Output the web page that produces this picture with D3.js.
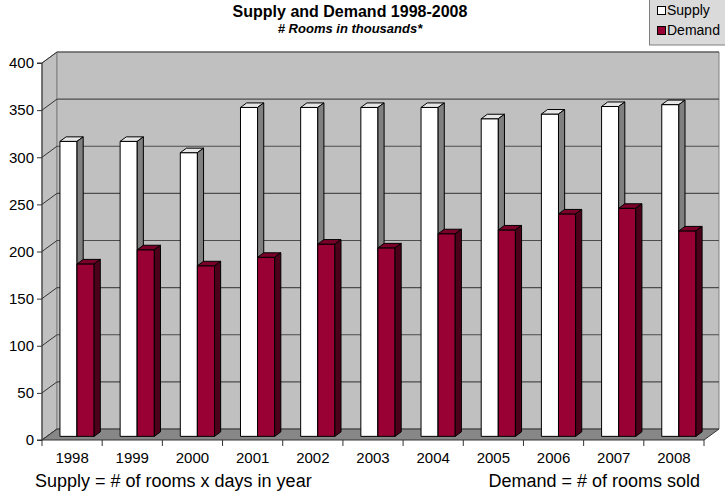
<!DOCTYPE html>
<html>
<head>
<meta charset="utf-8">
<script src="https://cdn.jsdelivr.net/npm/d3@7/dist/d3.min.js"></script>
<style>
  html, body { margin: 0; padding: 0; background: #fff; }
  svg { display: block; font-family: "Liberation Sans", Arial, sans-serif; }
</style>
</head>
<body>
<svg id="chart" width="725" height="494"></svg>
<script>
// Hotel rooms, thousands
const years = ["1998","1999","2000","2001","2002","2003","2004","2005","2006","2007","2008"];
const supply = [313, 313, 301, 349, 349, 349, 349, 337, 342, 350, 352];
const demand = [183, 198, 181, 190, 204, 200, 215, 219, 236, 242, 218];
const seriesNames = ["Supply", "Demand"];
const yTicks = [0, 50, 100, 150, 200, 250, 300, 350, 400];

const svg = d3.select("#chart");

// 3-D box: front plane plus a depth vector toward the back wall
const depth = { dx: 15, dy: -11 };
const x = d3.scaleBand().domain(years).range([42, 704]).paddingInner(0).paddingOuter(0);
const y = d3.scaleLinear().domain([0, 400]).range([440, 63]);
const series = d3.scaleBand().domain(seriesNames).range([0, x.bandwidth()]).paddingInner(0).paddingOuter(0.76);

const colors = {
  Supply: { front: "#ffffff", top: "#e6e6e6", side: "#808080" },
  Demand: { front: "#990033", top: "#7a0029", side: "#4d001a" }
};

const x0 = x.range()[0], x1 = x.range()[1];
const yTop = y(400), yBot = y(0);
const pt = (px, py) => px + "," + py;

// walls
const walls = svg.append("g");
walls.append("polygon") // side wall
  .attr("points", [pt(x0, yBot), pt(x0, yTop), pt(x0 + depth.dx, yTop + depth.dy), pt(x0 + depth.dx, yBot + depth.dy)].join(" "))
  .attr("fill", "#c0c0c0").attr("stroke", "#808080");
walls.append("polygon") // back wall
  .attr("points", [pt(x0 + depth.dx, yTop + depth.dy), pt(x1 + depth.dx, yTop + depth.dy), pt(x1 + depth.dx, yBot + depth.dy), pt(x0 + depth.dx, yBot + depth.dy)].join(" "))
  .attr("fill", "#c0c0c0").attr("stroke", "#808080");

// gridlines on back wall and side wall
const grid = svg.append("g");
yTicks.forEach(v => {
  const yy = y(v);
  if (v > 0) {
    grid.append("line")
      .attr("x1", x0 + depth.dx).attr("x2", x1 + depth.dx)
      .attr("y1", yy + depth.dy).attr("y2", yy + depth.dy)
      .attr("stroke", "#4d4d4d").attr("stroke-width", 1.2);
  }
  grid.append("line")
    .attr("x1", x0).attr("y1", yy)
    .attr("x2", x0 + depth.dx).attr("y2", yy + depth.dy)
    .attr("stroke", "#333").attr("stroke-width", 1);
});

// floor
svg.append("polygon")
  .attr("points", [pt(x0, yBot), pt(x1, yBot), pt(x1 + depth.dx, yBot + depth.dy), pt(x0 + depth.dx, yBot + depth.dy)].join(" "))
  .attr("fill", "#878787").attr("stroke", "#333").attr("stroke-width", 1);

// bars
const fFront = 0.33, fBack = 0.74;
const fdx = depth.dx * fFront, fdy = depth.dy * fFront;
const bdx = depth.dx * fBack, bdy = depth.dy * fBack;
const bars = svg.append("g");
years.forEach((yr, i) => {
  seriesNames.forEach(name => {
    const v = name === "Supply" ? supply[i] : demand[i];
    const c = colors[name];
    const L = x(yr) + series(name) + fdx;
    const R = L + series.bandwidth();
    const T = y(v) + fdy;
    const B = y(0) + fdy;
    const sx = bdx - fdx, sy = bdy - fdy;
    bars.append("polygon") // front face
      .attr("points", [pt(L, B), pt(L, T), pt(R, T), pt(R, B)].join(" "))
      .attr("fill", c.front).attr("stroke", "#000").attr("stroke-width", 1).attr("stroke-linejoin", "round");
    bars.append("polygon") // top face
      .attr("points", [pt(L, T), pt(L + sx, T + sy), pt(R + sx, T + sy), pt(R, T)].join(" "))
      .attr("fill", c.top).attr("stroke", "#000").attr("stroke-width", 1).attr("stroke-linejoin", "round");
    bars.append("polygon") // side face
      .attr("points", [pt(R, T), pt(R + sx, T + sy), pt(R + sx, B + sy), pt(R, B)].join(" "))
      .attr("fill", c.side).attr("stroke", "#000").attr("stroke-width", 1).attr("stroke-linejoin", "round");
  });
});

// value axis
const yAxis = d3.axisLeft(y).tickValues(yTicks).tickSize(5).tickPadding(3);
const gy = svg.append("g").attr("transform", `translate(${x0},0)`).call(yAxis);
gy.select(".domain").attr("stroke", "#333").attr("d", `M-5,${yTop}H0V${yBot}H-5`);
gy.selectAll(".tick line").attr("stroke", "#333");
gy.selectAll("text").attr("font-size", 15).attr("fill", "#000")
  .attr("font-family", "'Liberation Sans', Arial, sans-serif");

// category axis
const xAxis = d3.axisBottom(x).tickSize(0).tickPadding(12);
const gx = svg.append("g").attr("transform", `translate(0,${yBot})`).call(xAxis);
gx.select(".domain").remove();
gx.selectAll("text").attr("font-size", 15).attr("fill", "#000")
  .attr("font-family", "'Liberation Sans', Arial, sans-serif");
// ticks between categories
const sepX = [x0].concat(years.slice(1).map(d => x(d)), [x1]);
gx.selectAll("line.sep").data(sepX).enter().append("line")
  .attr("class", "sep")
  .attr("x1", d => d).attr("x2", d => d)
  .attr("y1", 0).attr("y2", 6).attr("stroke", "#333");

// titles
svg.append("text").attr("x", 350).attr("y", 17).attr("text-anchor", "middle")
  .attr("font-size", 16).attr("font-weight", "bold").text("Supply and Demand 1998-2008");
svg.append("text").attr("x", 350).attr("y", 33).attr("text-anchor", "middle")
  .attr("font-size", 13).attr("font-weight", "bold").attr("font-style", "italic")
  .text("# Rooms in thousands*");

// footnotes
svg.append("text").attr("x", 35).attr("y", 487).attr("font-size", 18)
  .text("Supply = # of rooms x days in year");
svg.append("text").attr("x", 700).attr("y", 487).attr("font-size", 18).attr("text-anchor", "end")
  .text("Demand = # of rooms sold");

// legend
const lg = svg.append("g");
lg.append("rect").attr("x", 649.5).attr("y", -1).attr("width", 80).attr("height", 46)
  .attr("fill", "#dadada").attr("stroke", "#808080");
seriesNames.forEach((name, i) => {
  lg.append("rect").attr("x", 657.5).attr("y", 6.5 + i * 20).attr("width", 8).attr("height", 8)
    .attr("fill", colors[name].front).attr("stroke", "#000");
  lg.append("text").attr("x", 667).attr("y", 15 + i * 20).attr("font-size", 14).text(name);
});
</script>
</body>
</html>
